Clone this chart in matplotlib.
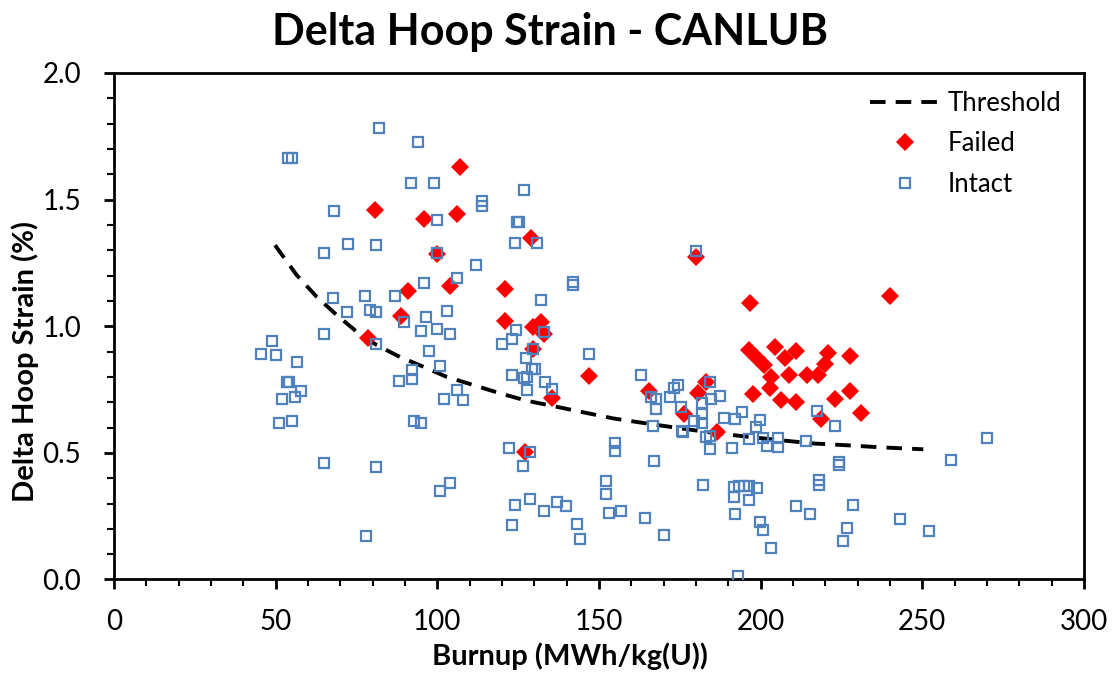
import numpy as np
import matplotlib.pyplot as plt
from matplotlib.ticker import MultipleLocator, FormatStrFormatter

# ---- data ----
threshold_x = [49.8, 56.5, 62.7, 68.9, 75.1, 81.3, 88.4, 95.7, 102.9, 111.1, 119.4,
               127.6, 136.9, 145.2, 154.4, 164.8, 175.1, 185.4, 195.7, 206.0,
               216.3, 226.6, 236.9, 250.3]
threshold_y = [1.320, 1.202, 1.116, 1.044, 0.978, 0.925, 0.879, 0.840, 0.800, 0.768, 0.735,
               0.706, 0.682, 0.660, 0.636, 0.616, 0.597, 0.579, 0.564, 0.550,
               0.537, 0.530, 0.522, 0.514]

failed_x = [107.0, 80.8, 95.9, 106.1, 128.9, 100.0, 120.9, 103.8, 91.0, 120.9, 88.8,
            129.7, 132.0, 133.0, 129.7, 78.7, 135.5, 127.1, 147.0,
            180.0, 196.7, 240.0, 165.5, 176.3, 183.1, 180.7, 186.5,
            196.5, 198.8, 201.0, 204.4, 207.6, 210.9, 203.2, 208.8, 202.9, 197.5,
            206.4, 211.0, 214.3, 217.6, 219.9, 220.9, 227.6, 223.1, 227.6, 231.1, 218.6]
failed_y = [1.629, 1.458, 1.425, 1.444, 1.349, 1.287, 1.146, 1.159, 1.140, 1.019, 1.041,
            0.996, 1.016, 0.971, 0.911, 0.952, 0.716, 0.502, 0.804,
            1.274, 1.092, 1.119, 0.745, 0.652, 0.781, 0.735, 0.582,
            0.906, 0.873, 0.848, 0.918, 0.873, 0.903, 0.800, 0.807, 0.757, 0.731,
            0.708, 0.699, 0.806, 0.807, 0.849, 0.895, 0.882, 0.714, 0.743, 0.658, 0.633]

intact_x = [82.1, 93.9, 53.9, 55.0, 92.0, 99.0, 126.9, 113.9, 113.9, 67.9, 100.0,
            124.8, 125.4, 123.9, 130.9, 65.0, 72.3, 80.9, 100.0, 112.0, 106.0, 96.0,
            142.0, 142.0, 132.0, 67.7, 77.6, 86.9, 72.1, 79.2, 80.9, 103.0, 89.8,
            96.5, 95.0, 100.0, 103.9, 124.2, 123.2, 119.9, 133.0, 129.7, 65.0, 80.9,
            97.5, 48.9, 45.5, 50.0, 56.6, 127.5, 147.0, 100.9, 92.2, 92.2, 88.1,
            129.2, 130.2, 123.1, 126.7, 127.6, 127.6, 133.2, 135.5,
            53.4, 54.0, 57.9, 52.1, 56.0, 106.0, 102.1, 108.0, 51.0, 55.0, 92.8, 95.0,
            122.1, 128.8, 126.4, 65.0, 80.9, 103.9, 100.9, 123.9, 128.8, 133.1,
            137.0, 139.9, 123.0, 143.1, 144.2, 77.9,
            180.0, 163.1, 166.2, 167.6, 167.6, 173.2, 174.4, 172.0, 175.4, 184.2,
            182.0, 182.0, 182.0, 184.5, 187.5, 179.3, 166.6, 175.6, 176.1, 183.1,
            184.4, 184.4, 188.8, 192.0, 194.3, 199.8, 198.6, 191.0, 196.5, 200.8,
            202.1, 205.4, 205.4, 214.0, 217.5, 223.0, 259.0, 155.1, 155.1, 167.0,
            224.1, 224.1, 152.1, 152.1, 153.2, 156.9, 164.3, 170.0, 182.1,
            191.9, 193.4, 194.7, 196.4, 198.8, 191.9, 196.5, 192.0, 199.8, 200.8,
            203.1, 193.1, 210.9, 215.3, 218.2, 218.0, 228.7, 226.6, 225.4, 243.1,
            252.0, 270.1]
intact_y = [1.783, 1.727, 1.666, 1.666, 1.567, 1.565, 1.536, 1.494, 1.475, 1.454, 1.419,
            1.410, 1.410, 1.329, 1.329, 1.291, 1.324, 1.320, 1.290, 1.240, 1.189, 1.171,
            1.173, 1.163, 1.103, 1.112, 1.120, 1.118, 1.056, 1.065, 1.057, 1.061, 1.015,
            1.035, 0.982, 0.990, 0.968, 0.986, 0.948, 0.929, 0.979, 0.911, 0.969, 0.929,
            0.903, 0.940, 0.891, 0.887, 0.857, 0.874, 0.891, 0.841, 0.826, 0.792, 0.783,
            0.830, 0.830, 0.806, 0.794, 0.800, 0.748, 0.778, 0.753,
            0.781, 0.779, 0.744, 0.714, 0.722, 0.748, 0.714, 0.710, 0.616, 0.624, 0.624, 0.618,
            0.520, 0.502, 0.448, 0.460, 0.443, 0.380, 0.349, 0.294, 0.318, 0.272,
            0.306, 0.290, 0.215, 0.220, 0.161, 0.173,
            1.298, 0.807, 0.719, 0.714, 0.673, 0.757, 0.766, 0.719, 0.682, 0.778,
            0.695, 0.653, 0.616, 0.714, 0.723, 0.624, 0.607, 0.587, 0.581, 0.561,
            0.566, 0.516, 0.636, 0.632, 0.662, 0.629, 0.603, 0.520, 0.556, 0.557,
            0.527, 0.557, 0.524, 0.547, 0.665, 0.607, 0.470, 0.540, 0.508, 0.466,
            0.465, 0.451, 0.388, 0.336, 0.262, 0.272, 0.241, 0.174, 0.372,
            0.366, 0.369, 0.369, 0.369, 0.360, 0.324, 0.314, 0.258, 0.228, 0.195,
            0.124, 0.014, 0.290, 0.260, 0.393, 0.373, 0.293, 0.202, 0.152, 0.240,
            0.193, 0.560]

plt.rcParams['font.family'] = ['Lato', 'DejaVu Sans']

fig = plt.figure(figsize=(11.12, 6.75), dpi=100)
ax = fig.add_axes([0.1025, 0.1415, 0.8723, 0.7504])

ax.plot(threshold_x, threshold_y, color='black', linestyle=(0, (4, 2.6)),
        linewidth=2.8, label='Threshold', zorder=2)
ax.plot(failed_x, failed_y, linestyle='none', marker='D', markersize=9,
        color='#FF0000', markeredgewidth=0, label='Failed', zorder=3)
ax.plot(intact_x, intact_y, linestyle='none', marker='s', markersize=7,
        markerfacecolor='none', markeredgecolor='#4F81BD', markeredgewidth=1.6,
        label='Intact', zorder=4)

ax.set_xlim(0, 300)
ax.set_ylim(0, 2.0)
ax.xaxis.set_major_locator(MultipleLocator(50))
ax.xaxis.set_minor_locator(MultipleLocator(10))
ax.yaxis.set_major_locator(MultipleLocator(0.5))
ax.yaxis.set_minor_locator(MultipleLocator(0.1))
ax.yaxis.set_major_formatter(FormatStrFormatter('%.1f'))
ax.tick_params(which='major', direction='out', length=7.5, width=2, labelsize=20,
               top=False, right=False)
ax.tick_params(which='minor', direction='out', length=5, width=1.5,
               top=False, right=False)
ax.tick_params(axis='y', which='major', pad=16)
ax.tick_params(axis='x', which='major', pad=14)
for s in ax.spines.values():
    s.set_linewidth(2)

# title centred on the whole chart area, like the original
fig.text(0.4946, 0.953, 'Delta Hoop Strain - CANLUB', fontsize=31, fontweight='bold',
         ha='center', va='center')
ax.set_xlabel('Burnup (MWh/kg(U))', fontsize=21, fontweight='bold')
ax.set_ylabel('Delta Hoop Strain (%)', fontsize=21, fontweight='bold')
ax.xaxis.set_label_coords(0.47, -0.125)
ax.yaxis.set_label_coords(-0.077, 0.43)

ax.legend(loc='upper right', frameon=False, fontsize=18.5, handlelength=2.7,
          labelspacing=0.6, borderaxespad=0.3, handletextpad=0.3,
          bbox_to_anchor=(0.995, 1.0))

plt.savefig('out.png', dpi=100)
